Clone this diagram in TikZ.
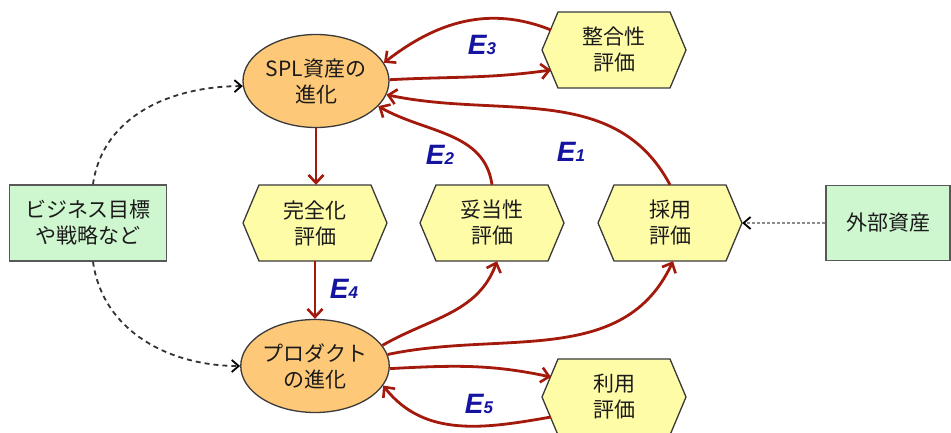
\documentclass[tikz,border=0pt]{standalone}
\usepackage{fontspec}
\newfontfamily\jp{Noto Sans CJK JP}
\newfontfamily\elab{Liberation Sans}
\usetikzlibrary{arrows.meta,shapes.geometric,calc}
\definecolor{arrred}{HTML}{A3190C}
\definecolor{ellfill}{HTML}{FDC878}
\definecolor{hexfill}{HTML}{FFFCA8}
\definecolor{grnfill}{HTML}{CFF7CF}
\definecolor{edge}{HTML}{3A3A3A}
\definecolor{txt}{HTML}{1A1A1A}
\definecolor{eblue}{HTML}{1414A0}
\newcommand\hexat[4]{%
  \draw[hexline] (#2-72,#3) -- (#2-56,#3+38) -- (#2+56,#3+38) -- (#2+72,#3)
     -- (#2+56,#3-38) -- (#2-56,#3-38) -- cycle;
  \node[hexnode] (#1) at (#2,#3) {#4};
  \coordinate (#1-lu) at (#2-63,#3+20);
  \coordinate (#1-ld) at (#2-63,#3-20);
}
\begin{document}
\begin{tikzpicture}[x=1pt,y=1pt,
  jptext/.style={font=\jp\fontsize{21}{26}\selectfont, text=txt, align=center},
  ell/.style={ellipse, draw=edge, line width=1.3pt, fill=ellfill, minimum width=146pt, minimum height=93pt, inner sep=0pt, jptext},
  hexline/.style={draw=edge, line width=1.3pt, fill=hexfill},
  hexnode/.style={rectangle, draw=none, minimum width=144pt, minimum height=76pt, inner sep=0pt, jptext},
  grn/.style={rectangle, draw=edge!85, line width=1.3pt, fill=grnfill, inner sep=0pt, jptext},
  rarr/.style={draw=arrred, line width=2.8pt, -{Straight Barb[length=8pt,width=15pt,line width=2.6pt]}},
  darr/.style={draw=black!80, line width=1.8pt, dash pattern=on 5pt off 4pt, -{Straight Barb[length=7pt,width=12pt,line width=1.8pt,color=black]}},
  garr/.style={draw=black!45, line width=1.8pt, dash pattern=on 3pt off 2pt, -{Straight Barb[length=7pt,width=12pt,line width=1.8pt,color=black]}},
  elabel/.style={font=\elab\bfseries\itshape\fontsize{28}{28}\selectfont, text=eblue, inner sep=0pt}
]
\useasboundingbox (0,0) rectangle (951,432);
\clip (0,0) rectangle (951,432);
\fill[white] (0,0) rectangle (951,432);

% nodes
\node[ell] (spl) at (316,351) {SPL資産の\\進化};
\node[ell] (prod) at (315,66) {プロダクト\\の進化};
\hexat{kan}{315}{209}{完全化\\評価}
\hexat{dato}{492}{209}{妥当性\\評価}
\hexat{saiyo}{670}{209}{採用\\評価}
\hexat{seigo}{614}{382}{整合性\\評価}
\hexat{riyo}{614}{35}{利用\\評価}
\node[grn, minimum width=157pt, minimum height=76pt] (biz) at (88,209) {ビジネス目標\\や戦略など};
\node[grn, minimum width=124pt, minimum height=75pt] (gaibu) at (888,209) {外部資産};

% labels
\node[elabel] (e3) at (482,387) {E{\fontsize{17}{17}\selectfont 3}};
\node[elabel] (e2) at (440,277) {E{\fontsize{17}{17}\selectfont 2}};
\node[elabel] (e1) at (571,280) {E{\fontsize{17}{17}\selectfont 1}};
\node[elabel] (e4) at (344,143) {E{\fontsize{17}{17}\selectfont 4}};
\node[elabel] (e5) at (479,28) {E{\fontsize{17}{17}\selectfont 5}};

% red connectors
\draw[rarr] (spl.south) -- (spl.south |- kan.north);
\draw[rarr] (kan.south) -- (kan.south |- prod.north);
\draw[rarr] (prod.17) to[out=30,in=-110] ([xshift=5pt]dato.south);
\draw[rarr] (dato.north) to[out=98,in=-30] (spl.-22);
\draw[rarr] (prod.9) to[out=12,in=-115] ([xshift=3pt]saiyo.south);
\draw[rarr] (saiyo.north) to[out=118,in=-12] (spl.-11);
\draw[rarr] (spl.1) to[out=3,in=188] (seigo-ld);
\draw[rarr] (seigo-lu) to[out=158,in=38] (spl.15);
\draw[rarr] (prod.-2) to[out=3,in=168] (riyo-lu);
\draw[rarr] (riyo-ld) to[out=190,in=-52] (prod.-16);

% dashed connectors
\draw[garr] (gaibu.west) -- (saiyo.east);
\draw[darr] ([xshift=5pt]biz.north) to[out=82,in=180] (spl.184);
\draw[darr] ([xshift=5pt]biz.south) to[out=-82,in=180] (prod.west);
\end{tikzpicture}
\end{document}
